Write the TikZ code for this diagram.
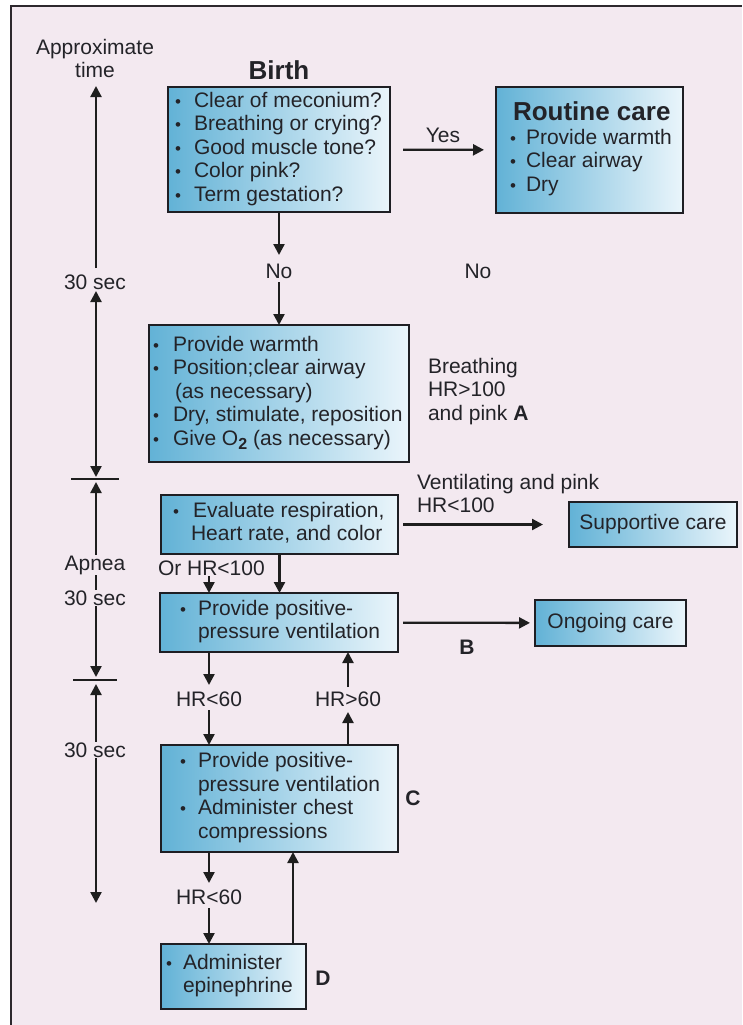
\documentclass[tikz,border=0pt]{standalone}
\usepackage{fontspec}
\setmainfont{Liberation Sans}
\usetikzlibrary{arrows.meta}
\definecolor{bg}{RGB}{243,233,240}
\definecolor{framec}{RGB}{45,40,45}
\definecolor{txt}{RGB}{35,35,40}
\definecolor{boxL}{RGB}{98,178,214}
\definecolor{boxR}{RGB}{234,245,251}
\definecolor{boxline}{RGB}{30,30,35}
\definecolor{arrc}{RGB}{30,30,30}
\newcommand{\fs}{\fontsize{21}{23.5}\selectfont}
\newcommand{\bul}{\raisebox{0pt}{\fontsize{17}{17}\selectfont\textbullet}}
\newcommand{\bi}[1]{\makebox[#1][l]{\bul}}
\newcommand{\boxtext}[3]{\makebox[#1][l]{\hspace*{#2}\begin{tabular}{@{}l@{}l@{}}#3\end{tabular}}}
\tikzset{
  box/.style={draw=boxline, line width=2.5pt, left color=boxL, right color=boxR,
    inner sep=0pt, outer sep=0pt, anchor=north west, text=txt, font=\fs},
  lbl/.style={text=txt, font=\fs, inner sep=0pt, outer sep=0pt},
  blbl/.style={text=txt, font=\fs\bfseries, inner sep=0pt, outer sep=0pt},
  arr/.style={draw=arrc, line width=2.3pt, -{Triangle[length=11pt,width=11pt]}},
  dbl/.style={draw=arrc, line width=2.3pt, {Triangle[length=11pt,width=11pt]}-{Triangle[length=11pt,width=11pt]}},
  tick/.style={draw=arrc, line width=2.3pt},
  cover/.style={lbl, fill=bg, inner xsep=1pt, inner ysep=1pt}
}
\begin{document}
\begin{tikzpicture}[x=1pt,y=-1pt]
\useasboundingbox (0,0) rectangle (742,1025);
\fill[white] (0,0) rectangle (742,1025);
\fill[bg] (11,6) rectangle (742,1025);
\draw[framec, line width=2.5pt] (11,1025) -- (11,6) -- (742,6);

% time line
\node[lbl] (approx) at (95,61.5) {\begin{tabular}{@{}c@{}}Approximate\\time\end{tabular}};
\coordinate (ta) at (96,86);
\coordinate (tb) at (96,268);
\coordinate (tc) at (96,291);
\coordinate (td) at (96,477);
\coordinate (te) at (96,482);
\coordinate (tf) at (96,677);
\coordinate (tg) at (96,684);
\coordinate (th) at (96,903);
\coordinate (k1a) at (71,479);
\coordinate (k1b) at (119,479);
\coordinate (k2a) at (73,680);
\coordinate (k2b) at (117,680);
\draw[arr] (tb) -- (ta);
\node[lbl] (sec1) at (95,282) {30 sec};
\draw[dbl] (tc) -- (td);
\draw[tick] (k1a) -- (k1b);
\draw[dbl] (te) -- (tf);
\draw[tick] (k2a) -- (k2b);
\draw[dbl] (tg) -- (th);
\node[cover] (apnea) at (95,565) {Apnea};
\node[cover] (sec2) at (95,598) {30 sec};
\node[cover] (sec3) at (95,750) {30 sec};

% boxes
\node[blbl, font=\fontsize{26}{28}\selectfont\bfseries] (birth) at (279,70) {Birth};
\node[box, minimum width=222pt, minimum height=125pt] (b1) at (168,87)
 {\boxtext{222pt}{7pt}{\bi{19pt}&Clear of meconium?\\
  \bi{19pt}&Breathing or crying?\\
  \bi{19pt}&Good muscle tone?\\
  \bi{19pt}&Color pink?\\
  \bi{19pt}&Term gestation?}};
\node[box, minimum width=187pt, minimum height=126pt] (rc) at (496,87)
 {\boxtext{187pt}{14pt}{\multicolumn{2}{@{}l@{}}{\hspace*{3pt}\fontsize{26}{28}\selectfont\bfseries Routine care}\\
  \bi{16pt}&Provide warmth\\
  \bi{16pt}&Clear airway\\
  \bi{16pt}&Dry}};
\node[box, minimum width=260pt, minimum height=137pt] (b2) at (149,325)
 {\boxtext{260pt}{4pt}{\bi{20pt}&Provide warmth\\
  \bi{20pt}&Position;clear airway\\
  &\hspace*{2pt}(as necessary)\\
  \bi{20pt}&Dry, stimulate, reposition\\
  \bi{20pt}&Give O\raisebox{-4pt}{\fontsize{16}{16}\selectfont\bfseries 2} (as necessary)}};
\node[box, minimum width=237pt, minimum height=59pt] (b3) at (161,495)
 {\boxtext{237pt}{12pt}{\bi{20pt}&Evaluate respiration,\\
  &\hspace*{-2pt}Heart rate, and color}};
\node[box, minimum width=168pt, minimum height=45pt] (sc) at (569,502) {Supportive care};
\node[box, minimum width=238pt, minimum height=59pt] (b4) at (160,593)
 {\boxtext{238pt}{20pt}{\bi{18pt}&Provide positive-\\
  &pressure ventilation}};
\node[box, minimum width=151pt, minimum height=46pt] (oc) at (535,600) {Ongoing care};
\node[box, minimum width=237pt, minimum height=107pt] (b5) at (161,745)
 {\boxtext{237pt}{19pt}{\bi{18pt}&Provide positive-\\
  &pressure ventilation\\
  \bi{18pt}&Administer chest\\
  &compressions}};
\node[box, minimum width=145pt, minimum height=65pt] (b6) at (161,944)
 {\boxtext{145pt}{5pt}{\bi{17pt}&Administer\\
  &epinephrine}};

% labels
\node[lbl] (yes) at (443,135) {Yes};
\node[lbl] (no1) at (279,271) {No};
\node[lbl] (no2) at (478,271) {No};
\node[lbl, anchor=west] (brl) at (428,392) {\begin{tabular}{@{}l@{}}Breathing\\HR>100\\and pink \textbf{A}\end{tabular}};
\node[lbl, anchor=west] (vent) at (417,496.5) {\begin{tabular}{@{}l@{}}Ventilating and pink\\HR<100\end{tabular}};
\node[lbl, anchor=west] (orhr) at (158,568) {Or HR<100};
\node[blbl] (lb) at (467,647) {B};
\node[lbl] (hr1) at (209,699) {HR<60};
\node[lbl] (hr2) at (348,699) {HR>60};
\node[blbl] (lc) at (413,798) {C};
\node[lbl] (hr3) at (209,897) {HR<60};
\node[blbl] (ld) at (323,978) {D};

% connectors
\draw[arr, shorten <=13pt, shorten >=12pt] (b1) -- (rc);
\draw[arr, shorten >=16pt] (b1.south) -- (no1.center);
\draw[arr, shorten <=11pt] (no1.center) -- (b2.north);
\draw[arr, shorten <=5pt, shorten >=26pt] (b3) -- (sc);
\coordinate (or1) at (209,576);
\draw[arr] (or1) -- (or1 |- b4.north);
\draw[arr] (b3.south) -- (b3.south |- b4.north);
\draw[arr, shorten <=5pt, shorten >=5pt] (b4) -- (oc);
\draw[arr, shorten >=14pt] (hr1 |- b4.south) -- (hr1.center);
\draw[arr, shorten <=11pt] (hr1.center) -- (hr1 |- b5.north);
\draw[arr, shorten >=13pt] (hr2 |- b5.north) -- (hr2.center);
\draw[arr, shorten <=12pt] (hr2.center) -- (hr2 |- b4.south);
\draw[arr, shorten >=14pt] (hr3 |- b5.south) -- (hr3.center);
\draw[arr, shorten <=11pt] (hr3.center) -- (hr3 |- b6.north);
\coordinate (up) at (293,0);
\draw[arr] (up |- b6.north) -- (up |- b5.south);
\end{tikzpicture}
\end{document}
